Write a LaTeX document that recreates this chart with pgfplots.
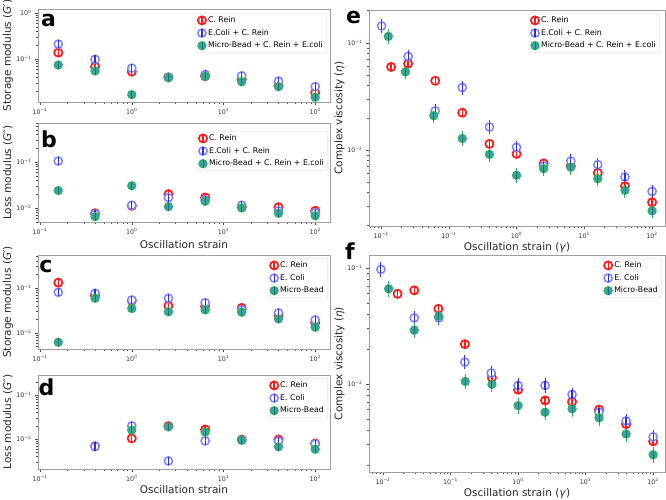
\documentclass[border=0pt]{standalone}
\usepackage{fontspec}
\setmainfont{DejaVu Sans}
\usepackage{pgfplots}
\pgfplotsset{compat=1.18}
\definecolor{cred}{RGB}{255,25,25}
\definecolor{cbluering}{RGB}{125,130,255}
\definecolor{cblueline}{RGB}{45,45,230}
\definecolor{cgreenfill}{RGB}{65,160,165}
\definecolor{cgreenring}{RGB}{45,175,110}
\definecolor{cgreenline}{RGB}{35,110,125}
\pgfdeclareplotmark{mred}{%
  \pgfsetlinewidth{1.7pt}\pgfsetstrokecolor{cred}\pgfsetfillcolor{white}%
  \pgfpathcircle{\pgfpointorigin}{\pgfplotmarksize}\pgfusepathqfillstroke
  \pgfsetlinewidth{1.3pt}%
  \pgfpathmoveto{\pgfqpoint{0pt}{-\pgfplotmarksize}}\pgfpathlineto{\pgfqpoint{0pt}{\pgfplotmarksize}}\pgfusepathqstroke}
\pgfdeclareplotmark{mblue}{%
  \pgfsetlinewidth{1.5pt}\pgfsetstrokecolor{cbluering}\pgfsetfillcolor{white}%
  \pgfpathcircle{\pgfpointorigin}{\pgfplotmarksize}\pgfusepathqfillstroke
  \pgfsetlinewidth{1.2pt}\pgfsetstrokecolor{cblueline}%
  \pgfpathmoveto{\pgfqpoint{0pt}{-\pgfplotmarksize}}\pgfpathlineto{\pgfqpoint{0pt}{\pgfplotmarksize}}\pgfusepathqstroke}
\pgfdeclareplotmark{mgreen}{%
  \pgfsetlinewidth{1.5pt}\pgfsetstrokecolor{cgreenring}\pgfsetfillcolor{cgreenfill}%
  \pgfpathcircle{\pgfpointorigin}{\pgfplotmarksize}\pgfusepathqfillstroke
  \pgfsetlinewidth{0.9pt}\pgfsetstrokecolor{cgreenline}%
  \pgfpathmoveto{\pgfqpoint{0pt}{-\pgfplotmarksize}}\pgfpathlineto{\pgfqpoint{0pt}{\pgfplotmarksize}}\pgfusepathqstroke}
\pgfplotsset{
  panel/.style={
    scale only axis,
    axis line style={gray!75, line width=0.8pt},
    tick align=outside, tick pos=left,
    tick style={gray!60!black, line width=0.5pt},
    major tick length=3pt, minor tick length=1.8pt,
    tick label style={font=\fontsize{6.3}{7}\selectfont, text=black!80},
    label style={font=\fontsize{10.5}{12}\selectfont, text=black!85},
    minor xtick={0.007,0.008,0.009,0.02,0.03,0.04,0.05,0.06,0.07,0.08,0.09,0.2,0.3,0.4,0.5,0.6,0.7,0.8,0.9,2,3,4,5,6,7,8,9,20,30,40,50,60,70,80,90},
    minor ytick={0.002,0.003,0.004,0.005,0.006,0.007,0.008,0.009,0.02,0.03,0.04,0.05,0.06,0.07,0.08,0.09,0.2,0.3,0.4,0.5,0.6,0.7,0.8,0.9},
    legend style={font=\fontsize{7.8}{9}\selectfont, draw=gray!30, rounded corners=1.5pt, inner xsep=2pt, inner ysep=1.5pt, row sep=1.2pt, anchor=north east},
    legend cell align=left,
  },
  leftx/.style={xmin=0.095, xmax=145, width=292pt, xtick={0.1,1,10,100},
    xticklabels={10\textsuperscript{−1},10\textsuperscript{0},10\textsuperscript{1},10\textsuperscript{2}}},
  rightx/.style={width=296pt, xtick={0.01,0.1,1,10,100},
    xticklabels={10\textsuperscript{−2},10\textsuperscript{−1},10\textsuperscript{0},10\textsuperscript{1},10\textsuperscript{2}}},
  ylab/.style={ylabel style={at={(axis description cs:#1,0.5)}, anchor=center}},
  xlab/.style={xlabel style={at={(axis description cs:0.5,0)}, anchor=center, yshift=-#1}},
  pr/.style={only marks, mark=mred, mark size=4.1pt},
  pb/.style={only marks, mark=mblue, mark size=4.1pt},
  pgr/.style={only marks, mark=mgreen, mark size=3.9pt},
}
\begin{document}
\begin{tikzpicture}
\path[use as bounding box] (0pt,0pt) rectangle (666pt,499pt);

% ---- a ----
\begin{loglogaxis}[panel, leftx, at={(38pt,397pt)}, anchor=south west, height=93pt, ymin=0.0116, ymax=1.22,
  ytick={0.1,1}, yticklabels={10\textsuperscript{−1},10\textsuperscript{0}},
  ylabel={Storage modulus (\textit{G}′)}, ylab=-0.103,
  legend style={at={(1,1)}, xshift=-3pt, yshift=-4pt}]
\addplot[pr] coordinates {(0.158,0.137) (0.398,0.068) (1,0.053) (2.51,0.040) (6.31,0.042) (15.8,0.036) (39.8,0.026) (100,0.0185)};
\addplot[pb] coordinates {(0.158,0.21) (0.398,0.098) (1,0.063) (2.51,0.040) (6.31,0.046) (15.8,0.043) (39.8,0.033) (100,0.025)};
\addplot[pgr] coordinates {(0.158,0.074) (0.398,0.055) (1,0.0168) (2.51,0.039) (6.31,0.042) (15.8,0.032) (39.8,0.025) (100,0.0147)};
\legend{C. Rein, E.Coli + C. Rein, Micro-Bead + C. Rein + E.coli}
\end{loglogaxis}

% ---- b ----
\begin{loglogaxis}[panel, leftx, at={(38pt,277pt)}, anchor=south west, height=99pt, ymin=0.00497, ymax=0.705,
  ytick={0.01,0.1}, yticklabels={10\textsuperscript{−2},10\textsuperscript{−1}},
  ylabel={Loss modulus (\textit{G}″)}, ylab=-0.103,
  xlabel={Oscillation strain}, xlab=23pt,
  legend style={at={(1,1)}, xshift=-2pt, yshift=-8pt}]
\addplot[pr] coordinates {(0.398,0.0077) (1,0.0112) (2.51,0.020) (6.31,0.017) (15.8,0.0104) (39.8,0.0104) (100,0.0087)};
\addplot[pb] coordinates {(0.158,0.105) (0.398,0.0074) (1,0.0115) (2.51,0.0168) (6.31,0.015) (15.8,0.0115) (39.8,0.0087) (100,0.0079)};
\addplot[pgr] coordinates {(0.158,0.024) (0.398,0.0065) (1,0.0305) (2.51,0.0107) (6.31,0.014) (15.8,0.0101) (39.8,0.0077) (100,0.0068)};
\legend{C. Rein, E.Coli + C. Rein, Micro-Bead + C. Rein + E.coli}
\end{loglogaxis}

% ---- c ----
\begin{loglogaxis}[panel, leftx, at={(38pt,150pt)}, anchor=south west, height=94pt, ymin=0.0044, ymax=0.54,
  ytick={0.01,0.1}, yticklabels={10\textsuperscript{−2},10\textsuperscript{−1}},
  ylabel={Storage modulus (\textit{G}′)}, ylab=-0.103,
  legend style={at={(1,1)}, xshift=-2pt, yshift=-3pt}]
\addplot[pr] coordinates {(0.158,0.131) (0.398,0.0675) (1,0.052) (2.51,0.040) (6.31,0.039) (15.8,0.036) (39.8,0.025) (100,0.0169)};
\addplot[pb] coordinates {(0.158,0.080) (0.398,0.076) (1,0.054) (2.51,0.059) (6.31,0.047) (15.8,0.033) (39.8,0.028) (100,0.0195)};
\addplot[pgr] coordinates {(0.158,0.0062) (0.398,0.059) (1,0.035) (2.51,0.0296) (6.31,0.0325) (15.8,0.029) (39.8,0.0205) (100,0.0134)};
\legend{C. Rein, E. Coli, Micro-Bead}
\end{loglogaxis}

% ---- d ----
\begin{loglogaxis}[panel, leftx, at={(38pt,30pt)}, anchor=south west, height=94pt, ymin=0.0021, ymax=0.285,
  ytick={0.01,0.1}, yticklabels={10\textsuperscript{−2},10\textsuperscript{−1}},
  ylabel={Loss modulus (\textit{G}″)}, ylab=-0.103,
  xlabel={Oscillation strain}, xlab=21pt,
  legend style={at={(1,1)}, xshift=-2pt, yshift=-3pt}]
\addplot[pr] coordinates {(0.398,0.0069) (1,0.0104) (2.51,0.0197) (6.31,0.0166) (15.8,0.0098) (39.8,0.0098) (100,0.0080)};
\addplot[pb] coordinates {(0.398,0.0068) (1,0.020) (2.51,0.0032) (6.31,0.0091) (15.8,0.0095) (39.8,0.009) (100,0.0078)};
\addplot[pgr] coordinates {(1,0.016) (2.51,0.019) (6.31,0.0145) (15.8,0.0095) (39.8,0.0067) (100,0.0059)};
\legend{C. Rein, E. Coli, Micro-Bead}
\end{loglogaxis}

% ---- e ----
\begin{loglogaxis}[panel, rightx, at={(369pt,273pt)}, anchor=south west, height=216pt, xmin=0.00665, xmax=155, ymin=0.00195, ymax=0.203,
  ytick={0.01,0.1}, yticklabels={10\textsuperscript{−2},10\textsuperscript{−1}},
  ylabel={Complex viscosity (\textit{η})}, ylab=-0.10,
  xlabel={Oscillation strain (\textit{γ})}, xlab=22pt,
  legend style={at={(1,1)}, xshift=-5pt, yshift=-3pt}]
\addplot[pr, error bars/.cd, y dir=both, y explicit relative, error bar style={cred, line width=1pt}, error mark options={cred, line width=1pt, mark size=2.6pt}] coordinates {
 (0.0141,0.0597) +- (0,0.03) (0.0251,0.064) +- (0,0.03) (0.063,0.0443) +- (0,0.03) (0.158,0.0223) +- (0,0.03) (0.398,0.0114) +- (0,0.03) (1,0.0092) +- (0,0.03)
 (2.51,0.0075) +- (0,0.03) (6.31,0.0071) +- (0,0.03) (15.8,0.0061) +- (0,0.03) (39.8,0.0046) +- (0,0.03) (100,0.00325) +- (0,0.03)};
\addplot[pb, error bars/.cd, y dir=both, y explicit relative, error bar style={cblueline, line width=1pt}, error mark options={cblueline, line width=1pt, mark size=2.6pt}] coordinates {
 (0.0102,0.144) +- (0,0.09) (0.0251,0.075) +- (0,0.09) (0.063,0.0232) +- (0,0.09) (0.158,0.0383) +- (0,0.09) (0.398,0.0164) +- (0,0.09) (1,0.0106) +- (0,0.09)
 (2.51,0.0071) +- (0,0.09) (6.31,0.0079) +- (0,0.09) (15.8,0.0073) +- (0,0.09) (39.8,0.0056) +- (0,0.09) (100,0.0041) +- (0,0.09)};
\addplot[pgr, error bars/.cd, y dir=both, y explicit relative, error bar style={cgreenring, line width=1pt}, error mark options={cgreenring, line width=1pt, mark size=2.6pt}] coordinates {
 (0.0128,0.115) +- (0,0.1) (0.0229,0.0537) +- (0,0.1) (0.06,0.0209) +- (0,0.1) (0.158,0.0128) +- (0,0.1) (0.398,0.0091) +- (0,0.1) (1,0.0058) +- (0,0.1)
 (2.51,0.0067) +- (0,0.1) (6.31,0.0069) +- (0,0.1) (15.8,0.0054) +- (0,0.1) (39.8,0.0042) +- (0,0.1) (100,0.0027) +- (0,0.1)};
\legend{C. Rein, E.Coli + C. Rein, Micro-Bead + C. Rein + E.coli}
\end{loglogaxis}

% ---- f ----
\begin{loglogaxis}[panel, rightx, at={(369pt,27pt)}, anchor=south west, height=217pt, xmin=0.0062, xmax=150, ymin=0.00174, ymax=0.129,
  ytick={0.01,0.1}, yticklabels={10\textsuperscript{−2},10\textsuperscript{−1}},
  ylabel={Complex viscosity (\textit{η})}, ylab=-0.10,
  xlabel={Oscillation strain (\textit{γ})}, xlab=22pt,
  legend style={at={(1,1)}, xshift=-3pt, yshift=-3pt}]
\addplot[pr, error bars/.cd, y dir=both, y explicit relative, error bar style={cred, line width=1pt}, error mark options={cred, line width=1pt, mark size=2.6pt}] coordinates {
 (0.0164,0.0597) +- (0,0.03) (0.029,0.064) +- (0,0.03) (0.066,0.0444) +- (0,0.03) (0.163,0.022) +- (0,0.03) (0.41,0.0113) +- (0,0.03) (1,0.0089) +- (0,0.03)
 (2.51,0.0072) +- (0,0.03) (6.31,0.0070) +- (0,0.03) (15.8,0.0060) +- (0,0.03) (39.8,0.0045) +- (0,0.03) (100,0.0032) +- (0,0.03)};
\addplot[pb, error bars/.cd, y dir=both, y explicit relative, error bar style={cblueline, line width=1pt}, error mark options={cblueline, line width=1pt, mark size=2.6pt}] coordinates {
 (0.0093,0.097) +- (0,0.09) (0.029,0.037) +- (0,0.09) (0.067,0.037) +- (0,0.09) (0.163,0.0154) +- (0,0.09) (0.4,0.0124) +- (0,0.09) (1,0.0097) +- (0,0.09)
 (2.51,0.0097) +- (0,0.09) (6.31,0.0081) +- (0,0.09) (15.8,0.0057) +- (0,0.09) (39.8,0.0048) +- (0,0.09) (100,0.0035) +- (0,0.09)};
\addplot[pgr, error bars/.cd, y dir=both, y explicit relative, error bar style={cgreenring, line width=1pt}, error mark options={cgreenring, line width=1pt, mark size=2.6pt}] coordinates {
 (0.0121,0.066) +- (0,0.1) (0.029,0.029) +- (0,0.1) (0.067,0.0383) +- (0,0.1) (0.165,0.0105) +- (0,0.1) (0.41,0.0099) +- (0,0.1) (1,0.0065) +- (0,0.1)
 (2.51,0.0057) +- (0,0.1) (6.31,0.0061) +- (0,0.1) (15.8,0.0051) +- (0,0.1) (39.8,0.0037) +- (0,0.1) (100,0.00245) +- (0,0.1)};
\legend{C. Rein, E. Coli, Micro-Bead}
\end{loglogaxis}

% panel letters
\begin{scope}[every node/.style={font=\fontsize{22}{22}\selectfont\bfseries, anchor=base, inner sep=0pt}]
\node at (48.5pt,472pt) {a};
\node at (49pt,352pt) {b};
\node at (46pt,227pt) {c};
\node at (46.5pt,104pt) {d};
\node at (353.5pt,475pt) {e};
\node at (350pt,240pt) {f};
\end{scope}
\end{tikzpicture}
\end{document}
